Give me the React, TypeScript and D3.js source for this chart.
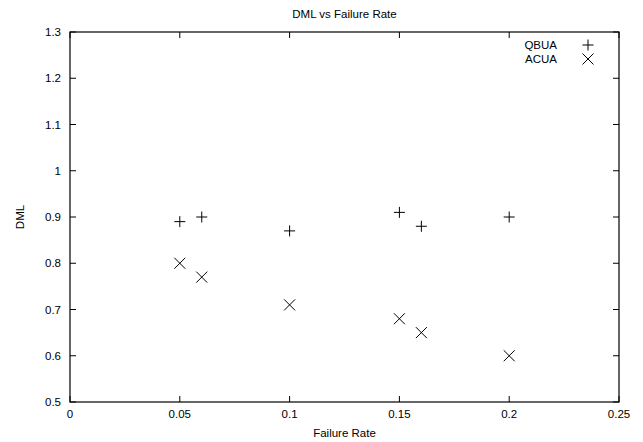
import React from "react";
import * as d3 from "d3";

const failureRates = [0.05, 0.06, 0.1, 0.15, 0.16, 0.2];
const qbuaValues = [0.89, 0.9, 0.87, 0.91, 0.88, 0.9];
const acuaValues = [0.8, 0.77, 0.71, 0.68, 0.65, 0.6];
const xTicks = [0, 0.05, 0.1, 0.15, 0.2, 0.25];
const yTicks = [0.5, 0.6, 0.7, 0.8, 0.9, 1, 1.1, 1.2, 1.3];
const seriesNames = ["QBUA", "ACUA"];

const W = 643;
const H = 442;
const M = { left: 70, right: 619, top: 32, bottom: 402 };
const FONT = "'Liberation Sans', Arial, Helvetica, sans-serif";
const FS = 11.5;

export default function App() {
  const x = d3.scaleLinear().domain([0, 0.25]).range([M.left, M.right]);
  const y = d3.scaleLinear().domain([0.5, 1.3]).range([M.bottom, M.top]);
  const tick = 6;
  const s = 5.5;

  const plus = (cx: number, cy: number, k: string) => (
    <path key={k} d={`M${cx - s},${cy}H${cx + s}M${cx},${cy - s}V${cy + s}`} stroke="#000" strokeWidth={1} fill="none" />
  );
  const cross = (cx: number, cy: number, k: string) => (
    <path key={k} d={`M${cx - s},${cy - s}L${cx + s},${cy + s}M${cx - s},${cy + s}L${cx + s},${cy - s}`} stroke="#000" strokeWidth={1} fill="none" />
  );

  return (
    <svg width={W} height={H} style={{ position: "absolute", left: 0, top: 0, background: "#fff" }} fontFamily={FONT}>
      <rect x={0} y={0} width={W} height={H} fill="#fff" />
      <text x={(M.left + M.right) / 2} y={18} textAnchor="middle" fontSize={FS}>DML vs Failure Rate</text>
      {xTicks.map((t, i) => (
        <g key={"x" + i}>
          <line x1={x(t)} x2={x(t)} y1={M.bottom} y2={M.bottom - tick} stroke="#000" />
          <line x1={x(t)} x2={x(t)} y1={M.top} y2={M.top + tick} stroke="#000" />
          <text x={x(t)} y={M.bottom + 16} textAnchor="middle" fontSize={FS}>{String(t)}</text>
        </g>
      ))}
      {yTicks.map((t, i) => (
        <g key={"y" + i}>
          <line x1={M.left} x2={M.left + tick} y1={y(t)} y2={y(t)} stroke="#000" />
          <line x1={M.right} x2={M.right - tick} y1={y(t)} y2={y(t)} stroke="#000" />
          <text x={M.left - 9} y={y(t) + 4} textAnchor="end" fontSize={FS}>{String(t)}</text>
        </g>
      ))}
      <rect x={M.left} y={M.top} width={M.right - M.left} height={M.bottom - M.top} fill="none" stroke="#000" strokeWidth={1.2} />
      <text x={(M.left + M.right) / 2} y={437} textAnchor="middle" fontSize={FS}>Failure Rate</text>
      <text transform={`translate(24,${(M.top + M.bottom) / 2}) rotate(-90)`} textAnchor="middle" fontSize={FS}>DML</text>
      {failureRates.map((f, i) => plus(x(f), y(qbuaValues[i]), "q" + i))}
      {failureRates.map((f, i) => cross(x(f), y(acuaValues[i]), "a" + i))}
      <text x={557} y={49} textAnchor="end" fontSize={FS}>{seriesNames[0]}</text>
      {plus(588, 45, "lq")}
      <text x={557} y={63} textAnchor="end" fontSize={FS}>{seriesNames[1]}</text>
      {cross(588, 59, "la")}
    </svg>
  );
}
